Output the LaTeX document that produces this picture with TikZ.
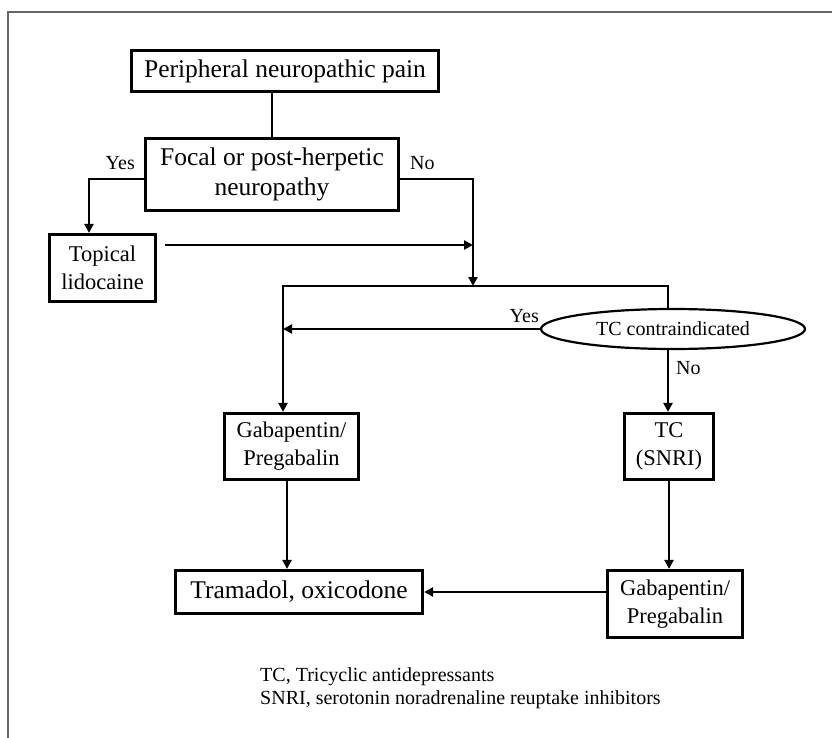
\documentclass[tikz,border=0pt]{standalone}
\usepackage{fontspec}
\setmainfont{Liberation Serif}
\usepackage{tikz}
\usetikzlibrary{arrows.meta,shapes}
\tikzstyle{box}=[draw,line width=3.2pt,inner sep=0pt,align=center]
\tikzstyle{bigbox}=[box,font=\fontsize{25.5}{30}\selectfont]
\tikzstyle{midbox}=[box,font=\fontsize{22.5}{28}\selectfont]
\tikzstyle{oval}=[draw,ellipse,line width=2.2pt,inner sep=0pt,font=\fontsize{20}{23}\selectfont]
\tikzstyle{lbl}=[inner sep=0pt,font=\fontsize{20}{23}\selectfont]
\tikzstyle{edge}=[draw,line width=2.8pt]
\tikzstyle{arr}=[edge,-{Triangle[length=9pt,width=9pt]}]

\begin{document}
\begin{tikzpicture}[x=1pt,y=-1pt]
    \useasboundingbox (0,0) rectangle (832,738);
    % Frame round the figure
    \draw[black!60,line width=1.2pt] (832,12) -- (8,12) -- (8,738);

    % First we draw the boxes
    \node[bigbox,minimum width=307,minimum height=41] (pain) at (285,71) {Peripheral neuropathic pain};
    \node[bigbox,minimum width=253,minimum height=72] (focal) at (272,174.5) {Focal or post-herpetic\\neuropathy};
    \node[midbox,minimum width=106,minimum height=67] (topical) at (102.5,268) {Topical\\lidocaine};
    \node[oval,minimum width=264,minimum height=40] (tcci) at (673,329) {TC contraindicated};
    \node[midbox,minimum width=134,minimum height=66] (gabaL) at (291.5,446.5) {Gabapentin/\\Pregabalin};
    \node[midbox,minimum width=89,minimum height=66] (tcsnri) at (669,446.5) {TC\\(SNRI)};
    \node[midbox,minimum width=135,minimum height=67] (gabaR) at (675,604) {Gabapentin/\\Pregabalin};
    \node[bigbox,minimum width=247,minimum height=43] (tram) at (299,592) {Tramadol, oxicodone};

    % Yes / No labels
    \foreach \pos/\side/\txt in {{(135,170)/base east/Yes}, {(410,170)/base west/No}, {(539,322)/base east/Yes}, {(676,374)/base west/No}}
        \node[lbl,anchor=\side] at \pos {\txt};

    % Join points of the branches
    \coordinate (merge) at (473,286);
    \coordinate (barL) at (283,286);
    \coordinate (barR) at (668,286);
    \coordinate (topout) at ([xshift=8pt,yshift=23pt]topical.east);

    % Connect boxes with edges
    \path[edge] (focal.north |- pain.south) -- (focal.north);
    \path[arr] ([yshift=-4.5pt]focal.west) -| ([xshift=-13.5pt]topical.north);
    \path[arr] ([yshift=-4.5pt]focal.east) -| (merge);
    \path[arr] (topout) -- (topout -| merge);
    \path[arr] (tcci.north -| barR) -- (barR) -- (barL) -- (gabaL.north -| barL);
    \path[arr] (tcci.west) -- (tcci.west -| barL);
    \path[arr] (tcci.south -| barR) -- (tcsnri.north -| barR);
    \path[arr] ([xshift=-4.5pt]gabaL.south) -- ([xshift=-4.5pt]gabaL.south |- tram.north);
    \path[arr] (tcsnri.south) -- (tcsnri.south |- gabaR.north);
    \path[arr] (tram.east -| gabaR.west) -- (tram.east);

    % Legend
    \node[lbl,anchor=base west] (legTC) at (260,681) {TC, Tricyclic antidepressants};
    \node[lbl,anchor=base west] (legSNRI) at (260,704) {SNRI, serotonin noradrenaline reuptake inhibitors};
\end{tikzpicture}
\end{document}
